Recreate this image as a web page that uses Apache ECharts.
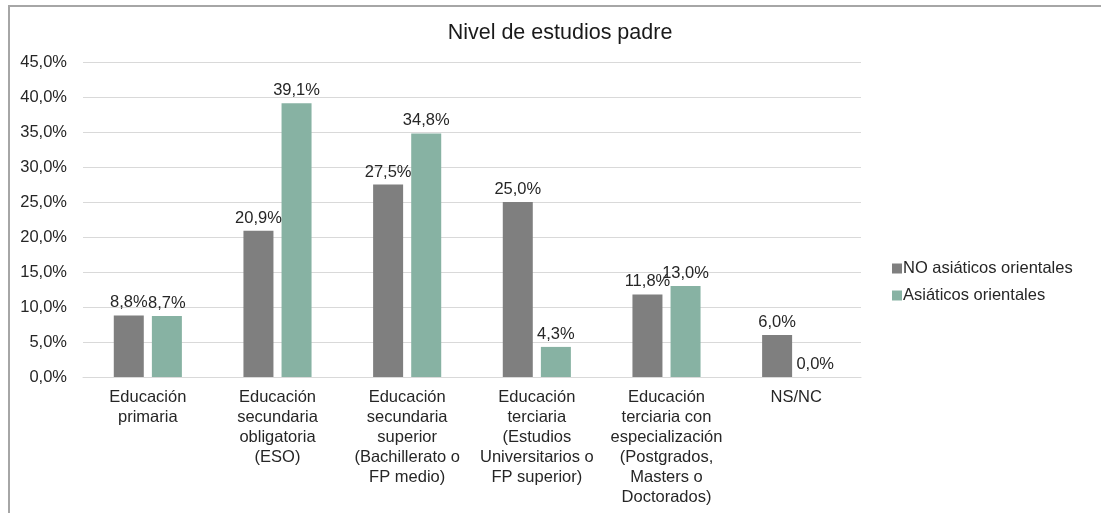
<!DOCTYPE html>
<html>
<head>
<meta charset="utf-8">
<script src="https://cdn.jsdelivr.net/npm/echarts@6/dist/echarts.min.js"></script>
<style>
  html, body { margin: 0; padding: 0; background: #fff; }
  #frame {
    position: absolute; left: 8px; top: 5px; width: 1200px; height: 600px;
    border: 2px solid #a6a6a6; box-sizing: border-box;
  }
  #main { position: absolute; left: 0; top: 0; width: 1101px; height: 513px; }
</style>
</head>
<body>
<div id="frame"></div>
<div id="main"></div>
<script>
// categorías y valores (%)
const categories = [
  'Educación\nprimaria',
  'Educación\nsecundaria\nobligatoria\n(ESO)',
  'Educación\nsecundaria\nsuperior\n(Bachillerato o\nFP medio)',
  'Educación\nterciaria\n(Estudios\nUniversitarios o\nFP superior)',
  'Educación\nterciaria con\nespecialización\n(Postgrados,\nMasters o\nDoctorados)',
  'NS/NC'
];
const noAsiaticos = [8.8, 20.9, 27.5, 25.0, 11.8, 6.0];
const asiaticos = [8.7, 39.1, 34.8, 4.3, 13.0, 0.0];
const seriesNames = ['NO asiáticos orientales', 'Asiáticos orientales'];

const fmt = v => v.toFixed(1).replace('.', ',') + '%';
const font = 'Liberation Sans, Arial, sans-serif';
const fs = 16.5;

const chart = echarts.init(document.getElementById('main'));

const labelStyle = {
  show: true,
  position: 'top',
  distance: 4,
  color: '#262626',
  fontSize: fs,
  fontFamily: font,
  formatter: p => fmt(p.value)
};

const option = {
  animation: false,
  color: ['#7f7f7f', '#87b2a3'],
  title: {
    text: 'Nivel de estudios padre',
    left: 555,
    textAlign: 'center',
    top: 17,
    textStyle: { color: '#1a1a1a', fontSize: 21.5, fontWeight: 'normal', fontFamily: font }
  },
  legend: {
    orient: 'vertical',
    left: 887,
    top: 255,
    itemWidth: 10,
    itemHeight: 10,
    itemGap: 10,
    icon: 'rect',
    data: seriesNames,
    textStyle: { color: '#262626', fontSize: fs, fontFamily: font, padding: [0, 0, 0, -4] }
  },
  grid: { left: 83, right: 240, top: 62, bottom: 136 },
  xAxis: {
    type: 'category',
    data: categories,
    axisTick: { show: false },
    axisLine: { lineStyle: { color: '#d9d9d9', width: 1 } },
    axisLabel: {
      interval: 0,
      color: '#262626',
      fontSize: fs,
      fontFamily: font,
      lineHeight: 20,
      margin: 10
    }
  },
  yAxis: {
    type: 'value',
    min: 0,
    max: 45,
    interval: 5,
    axisLine: { show: false },
    axisTick: { show: false },
    splitLine: { lineStyle: { color: '#d9d9d9', width: 1 } },
    axisLabel: {
      color: '#262626',
      fontSize: fs,
      fontFamily: font,
      margin: 16,
      formatter: v => fmt(v)
    }
  },
  series: [
    {
      name: seriesNames[0],
      type: 'bar',
      data: noAsiaticos,
      barWidth: 30,
      barGap: '27%',
      label: labelStyle
    },
    {
      name: seriesNames[1],
      type: 'bar',
      data: asiaticos,
      barWidth: 30,
      label: labelStyle
    }
  ]
};

chart.setOption(option);
</script>
</body>
</html>
